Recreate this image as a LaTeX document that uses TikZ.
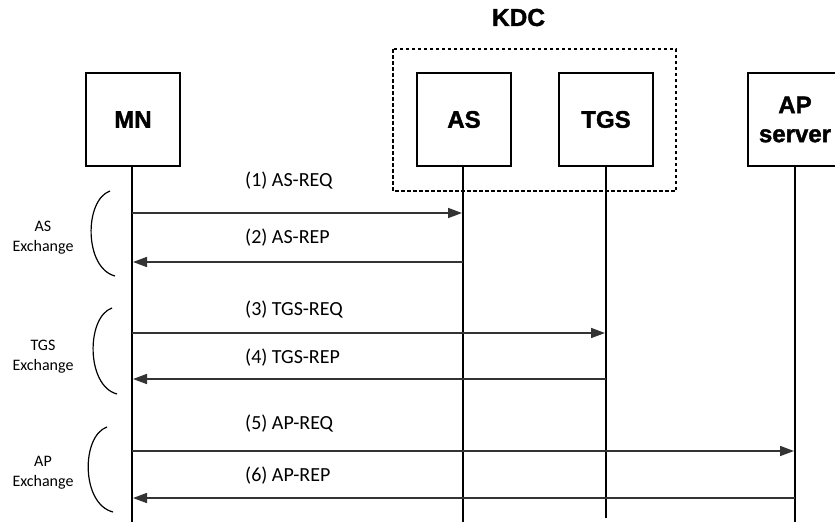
\documentclass[tikz,border=0pt]{standalone}
\usepackage{fontspec}
\setmainfont{Carlito}
\newfontfamily\boxfont[FakeBold=1.6]{Liberation Sans Bold}
\usetikzlibrary{arrows.meta}
\tikzset{
  entity/.style={draw=black, line width=2pt, minimum width=94pt, minimum height=93pt, inner sep=0pt,
    font=\boxfont\fontsize{24}{29}\selectfont, align=center},
  life/.style={draw=black, line width=2.5pt},
  msg/.style={draw=black!80, line width=1.6pt, -{Triangle[length=14pt,width=10pt]}},
  msglbl/.style={font=\fontsize{20}{24}\selectfont, anchor=west, inner sep=0pt},
  xlbl/.style={font=\fontsize{16}{20}\selectfont, align=center, inner sep=0pt},
  paren/.style={draw=black, line width=1.2pt}
}
\begin{document}
\begin{tikzpicture}[x=1pt,y=-1pt]
\useasboundingbox (0,0) rectangle (835,522);
% KDC group
\draw[line width=2pt, dash pattern=on 3.5pt off 2.5pt] (393,49) rectangle (676,191);
\node[font=\boxfont\fontsize{24.5}{29}\selectfont, inner sep=0pt] (kdc) at (518.5,17.5) {KDC};
% entities
\node[entity] (mn) at (133,119.5) {MN};
\node[entity] (as) at (464,119.5) {AS};
\node[entity] (tgs) at (606,119.5) {TGS};
\node[entity] (ap) at (795,119.5) {AP\\server};
% lifeline ends
\coordinate (mnend) at (132,522);
\coordinate (asend) at (463,522);
\coordinate (tgsend) at (606,518);
\coordinate (apend) at (795,522);
\draw[life] (mn.south -| mnend) -- (mnend);
\draw[life] (as.south -| asend) -- (asend);
\draw[life] (tgs.south -| tgsend) -- (tgsend);
\draw[life] (ap.south -| apend) -- (apend);
% message points
\coordinate (m1a) at (132,213); \coordinate (m1b) at (462,213);
\coordinate (m2a) at (463,262); \coordinate (m2b) at (133,262);
\coordinate (m3a) at (132,333); \coordinate (m3b) at (605,333);
\coordinate (m4a) at (606,379); \coordinate (m4b) at (133,379);
\coordinate (m5a) at (132,451); \coordinate (m5b) at (794,451);
\coordinate (m6a) at (795,498); \coordinate (m6b) at (133,498);
\draw[msg] (m1a) -- (m1b);
\draw[msg] (m2a) -- (m2b);
\draw[msg] (m3a) -- (m3b);
\draw[msg] (m4a) -- (m4b);
\draw[msg] (m5a) -- (m5b);
\draw[msg] (m6a) -- (m6b);
% labels
\node[msglbl] (l1) at (245,181) {(1) AS-REQ};
\node[msglbl] (l2) at (245,238) {(2) AS-REP};
\node[msglbl] (l3) at (245,310) {(3) TGS-REQ};
\node[msglbl] (l4) at (245,358) {(4) TGS-REP};
\node[msglbl] (l5) at (245,424) {(5) AP-REQ};
\node[msglbl] (l6) at (245,476) {(6) AP-REP};
% exchange brackets
\draw[paren] (110,191) .. controls (84,200) and (84,268) .. (115,276);
\draw[paren] (112,308) .. controls (86,317) and (86,386) .. (117,394);
\draw[paren] (107,427) .. controls (81,436) and (81,504) .. (113,512);
\node[xlbl] (x1) at (43,238) {AS\\Exchange};
\node[xlbl] (x2) at (43,357) {TGS\\Exchange};
\node[xlbl] (x3) at (43,473) {AP\\Exchange};
\end{tikzpicture}
\end{document}
